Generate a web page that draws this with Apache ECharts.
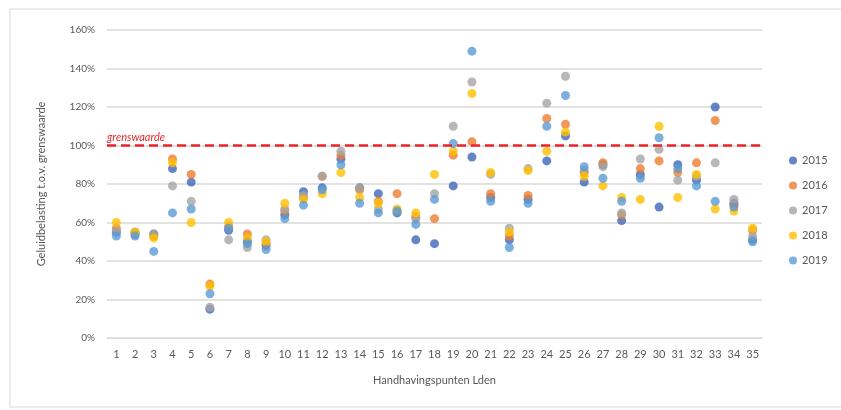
<!DOCTYPE html>
<html>
<head>
<meta charset="utf-8">
<script src="https://cdn.jsdelivr.net/npm/echarts@6/dist/echarts.min.js"></script>
<style>
  html, body { margin: 0; padding: 0; background: #fff; }
  #chart { width: 841px; height: 410px; }
</style>
</head>
<body>
<div id="chart"></div>
<script>
// handhavingspunten 1..35
var punten = [];
for (var i = 1; i <= 35; i++) punten.push(String(i));

var jaren = ['2015', '2016', '2017', '2018', '2019'];
var kleuren = ['#3F66B8', '#ED7D31', '#A5A5A5', '#FFC000', '#5B9BD5'];

// geluidbelasting t.o.v. grenswaarde (%)
var v2015 = [55, 54, 54, 88, 81, 15, 56, 50, 48, 64, 76, 78, 93, 78, 75, 65, 51, 49, 79, 94, 73, 51, 72, 92, 105, 81, 90, 61, 85, 68, 90, 82, 120, 70, 51];
var v2016 = [57, 55, 53, 93, 85, 28, 58, 54, 49, 66, 73, 84, 95, 77, 71, 75, 63, 62, 95, 102, 75, 53, 74, 114, 111, 86, 91, 64, 88, 92, 86, 91, 113, 69, 56];
var v2017 = [56, 55, 54, 79, 71, 16, 51, 47, 51, 67, 74, 84, 97, 78, 67, 66, 62, 75, 110, 133, 85, 57, 88, 122, 136, 87, 89, 65, 93, 98, 82, 84, 91, 72, 53];
var v2018 = [60, 55, 52, 91, 60, 27, 60, 52, 50, 70, 72, 75, 86, 73, 70, 67, 65, 85, 97, 127, 86, 55, 87, 97, 107, 84, 79, 73, 72, 110, 73, 85, 67, 66, 57];
var v2019 = [53, 53, 45, 65, 67, 23, 57, 49, 46, 62, 69, 77, 90, 70, 65, 66, 59, 72, 101, 149, 71, 47, 70, 110, 126, 89, 83, 71, 83, 104, 88, 79, 71, 68, 50];
var waarden = [v2015, v2016, v2017, v2018, v2019];

var grenswaarde = 100;

var font = 'Lato, "Open Sans", sans-serif';

var series = jaren.map(function (jaar, k) {
    var s = {
        name: jaar,
        type: 'scatter',
        symbol: 'circle',
        symbolSize: 9,
        itemStyle: { color: kleuren[k] },
        data: waarden[k]
    };
    if (k === 0) {
        s.markLine = {
            silent: true,
            symbol: 'none',
            lineStyle: { color: '#E8262A', type: [9, 5], width: 2.5 },
            label: {
                show: true,
                position: 'insideStartTop',
                formatter: 'grenswaarde',
                color: '#E8262A',
                fontStyle: 'italic',
                fontFamily: font,
                fontSize: 11,
                distance: [0, 3]
            },
            data: [{ yAxis: grenswaarde }]
        };
    }
    return s;
});

var chart = echarts.init(document.getElementById('chart'));
chart.setOption({
    animation: false,
    textStyle: { fontFamily: font },
    graphic: [{
        type: 'rect',
        shape: { x: 10, y: 9, width: 840, height: 398 },
        style: { fill: 'none', stroke: '#D9D9D9', lineWidth: 1 }
    }],
    grid: { left: 107, right: 79, top: 30, bottom: 72 },
    legend: {
        orient: 'vertical',
        left: 784,
        top: 150,
        itemGap: 14,
        itemWidth: 8,
        itemHeight: 8,
        icon: 'circle',
        textStyle: { color: '#595959', fontSize: 11, fontFamily: font },
        data: jaren
    },
    xAxis: {
        type: 'category',
        data: punten,
        boundaryGap: true,
        name: 'Handhavingspunten Lden',
        nameLocation: 'middle',
        nameGap: 37,
        nameTextStyle: { color: '#595959', fontSize: 11 },
        axisLine: { lineStyle: { color: '#D9D9D9' } },
        axisTick: { show: false },
        axisLabel: { color: '#595959', fontSize: 11, interval: 0, margin: 11 }
    },
    yAxis: {
        type: 'value',
        min: 0,
        max: 160,
        interval: 20,
        name: 'Geluidbelasting t.o.v. grenswaarde',
        nameLocation: 'middle',
        nameGap: 60,
        nameTextStyle: { color: '#595959', fontSize: 11 },
        axisLine: { show: false },
        axisTick: { show: false },
        axisLabel: { color: '#595959', fontSize: 10, formatter: '{value}%', margin: 12 },
        splitLine: { lineStyle: { color: '#D9D9D9', width: 1.5 } }
    },
    series: series
});
</script>
</body>
</html>
